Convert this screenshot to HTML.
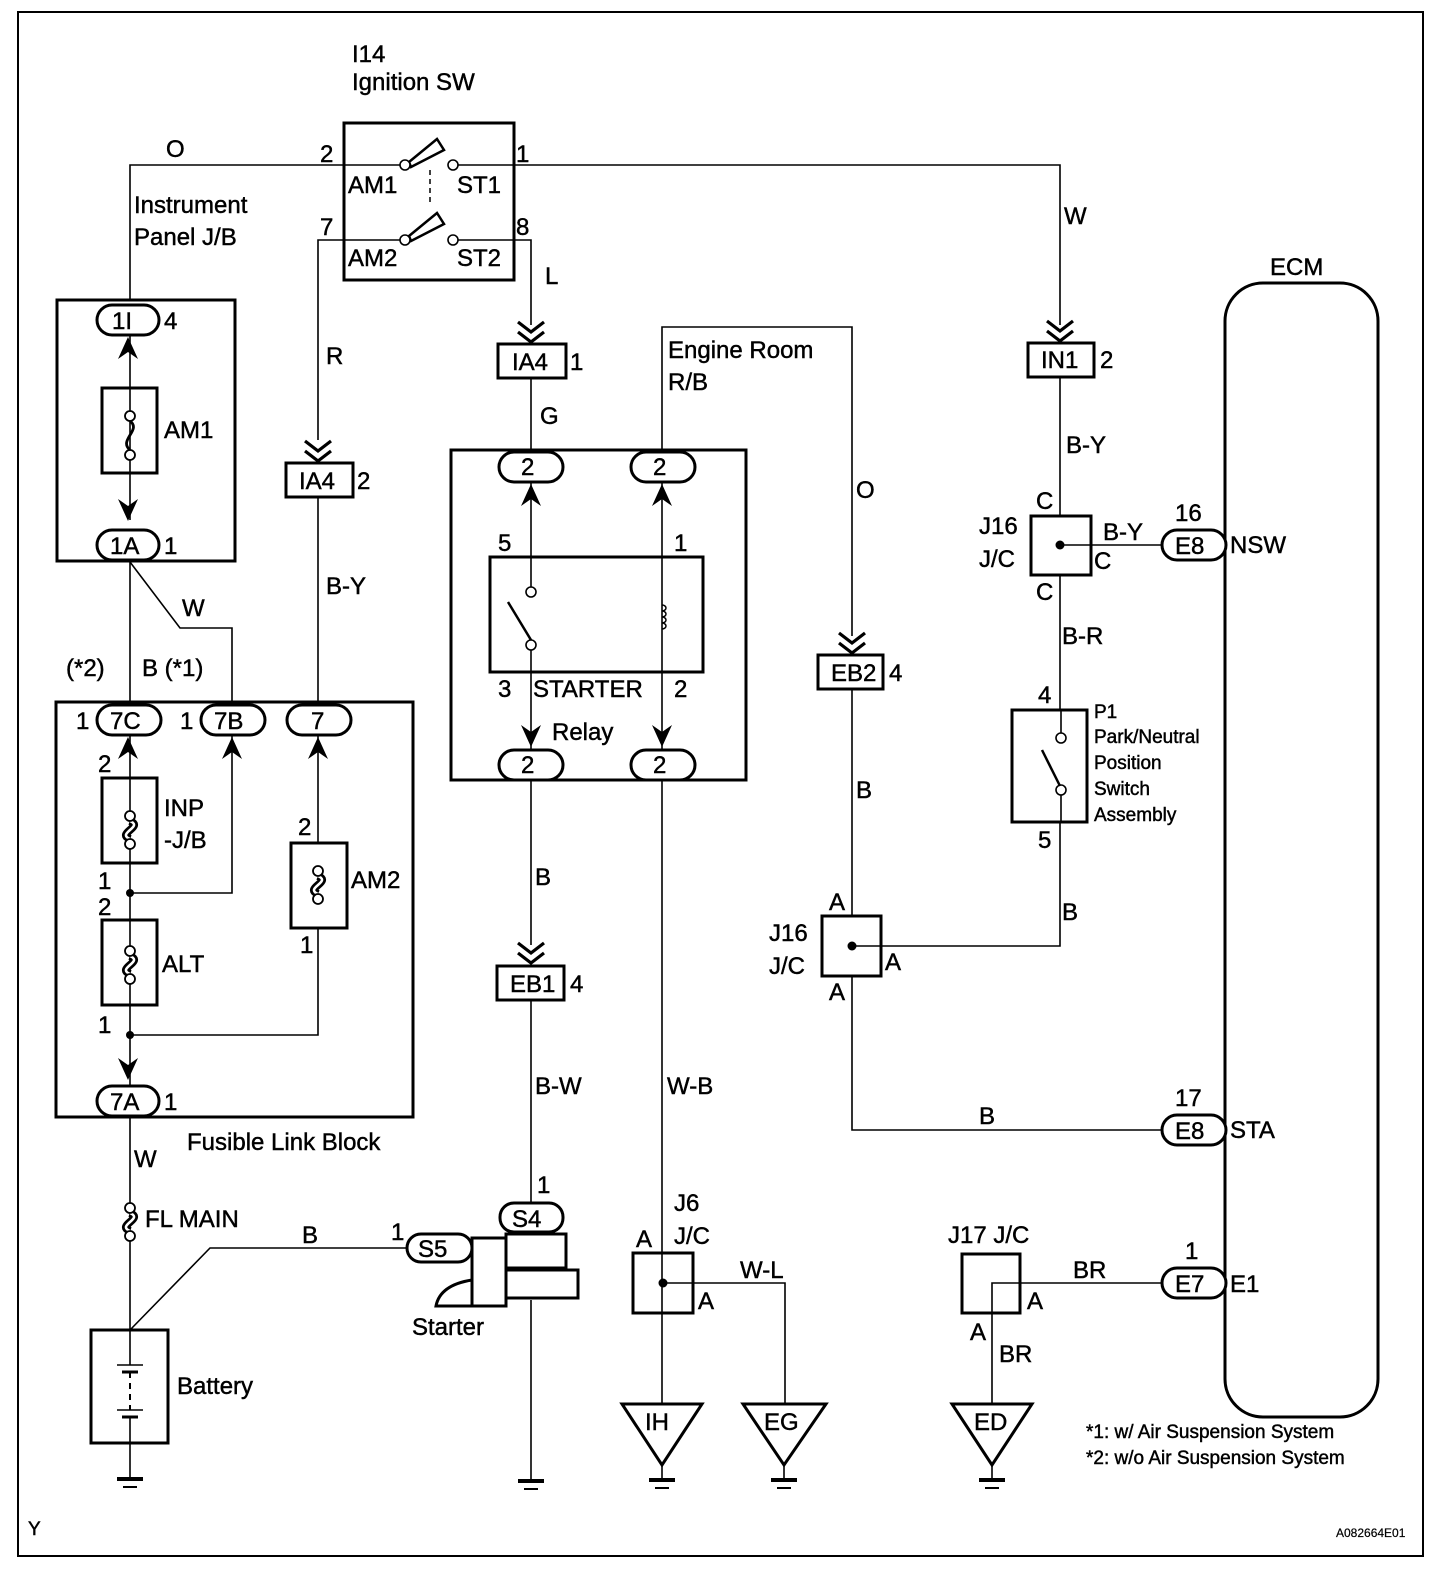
<!DOCTYPE html>
<html><head><meta charset="utf-8"><style>
html,body{margin:0;padding:0;background:#fff;}
svg{display:block;}
text{font-family:"Liberation Sans",Arial,sans-serif;fill:#000;stroke:#000;stroke-width:0.45;}
</style></head><body>
<svg width="1456" height="1584" viewBox="0 0 1456 1584" xmlns="http://www.w3.org/2000/svg">
<defs>
<polygon id="cu" points="-10,12 0,-10 10,12 0,5" fill="#000" stroke="none"/>
<polygon id="cd" points="-10,-12 0,10 10,-12 0,-5" fill="#000" stroke="none"/>
<g id="dc" fill="none" stroke="#000" stroke-width="3.2"><polyline points="-13,-14 0,-4 13,-14"/><polyline points="-13,-4 0,6 13,-4"/></g>
<g id="gnd" stroke="#000"><line x1="-13" y1="0" x2="13" y2="0" stroke-width="4"/><line x1="-7" y1="8" x2="7" y2="8" stroke-width="2"/></g>
</defs>
<g fill="none" stroke="#000" stroke-width="1.6">
<rect x="18" y="12" width="1405" height="1544" stroke-width="2"/>
<polyline points="130,300 130,165 405,165"/>
<polyline points="457,165 1060,165 1060,325"/>
<polyline points="405,240 318,240 318,440"/>
<polyline points="457,240 531,240 531,325"/>
<line x1="531" y1="378" x2="531" y2="450"/>
<polyline points="662,450 662,327 852,327 852,636"/>
<line x1="852" y1="689" x2="852" y2="916"/>
<polyline points="852,946 1060,946 1060,822"/>
<polyline points="852,976 852,1130 1162,1130"/>
<line x1="1060" y1="377" x2="1060" y2="516"/>
<line x1="1060" y1="545" x2="1162" y2="545"/>
<line x1="1060" y1="575" x2="1060" y2="710"/>
<line x1="318" y1="497" x2="318" y2="705"/>
<line x1="130" y1="561" x2="130" y2="705"/>
<polyline points="130,562 180,628 232,628 232,705"/>
<line x1="531" y1="780" x2="531" y2="945"/>
<line x1="531" y1="1000" x2="531" y2="1203"/>
<line x1="531" y1="1300" x2="531" y2="1480"/>
<line x1="662" y1="780" x2="662" y2="1404"/>
<polyline points="663,1283 785,1283 785,1404"/>
<polyline points="1162,1283 992,1283 992,1404"/>
<line x1="130" y1="1117" x2="130" y2="1330"/>
<polyline points="407,1248 210,1248 130,1330"/>
<line x1="130" y1="1443" x2="130" y2="1478"/>
<line x1="130" y1="335" x2="130" y2="520"/>
<line x1="130" y1="735" x2="130" y2="1085"/>
<polyline points="130,893 232,893 232,735"/>
<polyline points="130,1035 318,1035 318,928"/>
<line x1="318" y1="735" x2="318" y2="843"/>
<line x1="531" y1="482" x2="531" y2="587"/>
<line x1="531" y1="650" x2="531" y2="750"/>
<line x1="662" y1="482" x2="662" y2="750"/>
<line x1="1061" y1="710" x2="1061" y2="733"/>
<line x1="1061" y1="795" x2="1061" y2="822"/>
</g>
<g fill="none" stroke="#000" stroke-width="3">
<rect x="344" y="123" width="170" height="157"/>
<rect x="57" y="300" width="178" height="261"/>
<rect x="56" y="702" width="357" height="415"/>
<rect x="451" y="450" width="295" height="330"/>
<rect x="490" y="557" width="213" height="115"/>
<rect x="102" y="388" width="55" height="85"/>
<rect x="102" y="778" width="55" height="85"/>
<rect x="102" y="920" width="55" height="85"/>
<rect x="291" y="843" width="56" height="85"/>
<rect x="1012" y="710" width="75" height="112"/>
<rect x="1031" y="516" width="60" height="59"/>
<rect x="822" y="916" width="59" height="60"/>
<rect x="633" y="1253" width="60" height="60"/>
<rect x="962" y="1254" width="58" height="59"/>
<rect x="91" y="1330" width="77" height="113"/>
<rect x="1225" y="283" width="153" height="1134" rx="38"/>
<rect x="498" y="344" width="68" height="34" fill="#fff"/>
<rect x="286" y="463" width="67" height="34" fill="#fff"/>
<rect x="1028" y="343" width="66" height="34" fill="#fff"/>
<rect x="818" y="655" width="65" height="34" fill="#fff"/>
<rect x="497" y="966" width="67" height="34" fill="#fff"/>
<g fill="#fff">
<rect x="97" y="305" width="62" height="30" rx="15"/>
<rect x="97" y="530" width="62" height="30" rx="15"/>
<rect x="97" y="705" width="64" height="30" rx="15"/>
<rect x="201" y="705" width="64" height="30" rx="15"/>
<rect x="287" y="705" width="64" height="30" rx="15"/>
<rect x="97" y="1086" width="62" height="30" rx="15"/>
<rect x="499" y="452" width="64" height="30" rx="15"/>
<rect x="631" y="452" width="64" height="30" rx="15"/>
<rect x="499" y="750" width="64" height="30" rx="15"/>
<rect x="631" y="750" width="64" height="30" rx="15"/>
<rect x="1162" y="530" width="64" height="30" rx="15"/>
<rect x="1162" y="1115" width="64" height="30" rx="15"/>
<rect x="1162" y="1268" width="64" height="30" rx="15"/>
<rect x="500" y="1203" width="63" height="29" rx="14"/>
<rect x="407" y="1234" width="65" height="28" rx="14"/>
</g>
<path d="M472,1280 Q440,1285 436,1306 L472,1306 Z" fill="#fff"/>
<rect x="506" y="1234" width="60" height="34" fill="#fff"/>
<rect x="506" y="1270" width="72" height="28" fill="#fff"/>
<rect x="472" y="1238" width="34" height="68" fill="#fff"/>
<polygon points="622,1404 702,1404 662,1465"/>
<polygon points="743,1404 826,1404 784,1465"/>
<polygon points="952,1404 1032,1404 992,1465"/>
</g>
<g stroke="#000" stroke-width="1.6">
<line x1="662" y1="1465" x2="662" y2="1478"/>
<line x1="784" y1="1465" x2="784" y2="1478"/>
<line x1="992" y1="1465" x2="992" y2="1478"/>
</g>
<use href="#gnd" x="130" y="1479"/><use href="#gnd" x="531" y="1481"/><use href="#gnd" x="662" y="1480"/><use href="#gnd" x="784" y="1480"/><use href="#gnd" x="992" y="1480"/>
<g stroke="#000" fill="#fff">
<polygon points="409,162 437,139 444,150 411,167" stroke-width="2.5"/>
<polygon points="409,236 437,213 444,224 411,241" stroke-width="2.5"/>
<circle cx="405" cy="165" r="5" stroke-width="1.6"/>
<circle cx="453" cy="165" r="5" stroke-width="1.6"/>
<circle cx="405" cy="240" r="5" stroke-width="1.6"/>
<circle cx="453" cy="240" r="5" stroke-width="1.6"/>
<line x1="430" y1="170" x2="430" y2="203" stroke-width="1.5" stroke-dasharray="5,4"/>
<circle cx="531" cy="592" r="5" stroke-width="1.6"/>
<circle cx="531" cy="645" r="5" stroke-width="1.6"/>
<line x1="508" y1="602" x2="531" y2="640" stroke-width="2.5"/>
<path d="M662,605 a4,3 0 1 1 0,6 a4,3 0 1 1 0,6 a4,3 0 1 1 0,6 a4,3 0 1 1 0,6" fill="none" stroke-width="1.5"/>
<circle cx="1061" cy="738" r="5" stroke-width="1.6"/>
<circle cx="1061" cy="790" r="5" stroke-width="1.6"/>
<line x1="1042" y1="750" x2="1060" y2="786" stroke-width="2.5"/>
</g>
<g fill="#000"><circle cx="130" cy="893" r="4"/><circle cx="130" cy="1035" r="4"/><circle cx="1060" cy="545" r="4.5"/><circle cx="852" cy="946" r="4.5"/><circle cx="663" cy="1283" r="4.5"/></g>
<g stroke="#000"><line x1="130" y1="1330" x2="130" y2="1365" stroke-width="1.6"/><line x1="117" y1="1365" x2="143" y2="1365" stroke-width="1.6"/><line x1="122" y1="1372" x2="138" y2="1372" stroke-width="3"/><line x1="130" y1="1372" x2="130" y2="1410" stroke-width="2" stroke-dasharray="6,5"/><line x1="117" y1="1410" x2="143" y2="1410" stroke-width="1.6"/><line x1="122" y1="1417" x2="138" y2="1417" stroke-width="3"/><line x1="130" y1="1417" x2="130" y2="1443" stroke-width="1.6"/></g>
<!-- AM1 fuse -->
<g fill="none" stroke="#000"><path d="M130,421 C142,430 118,440 130,450" stroke-width="2.8"/><circle cx="130" cy="416" r="5" fill="#fff" stroke-width="1.8"/><circle cx="130" cy="455" r="5" fill="#fff" stroke-width="1.8"/></g>
<!-- fusible link fuses -->
<g fill="none" stroke="#000">
<g transform="translate(130,830)"><path d="M0,-9 C14,-3 -14,3 0,9" stroke-width="8"/><path d="M0,-9 C14,-3 -14,3 0,9" stroke="#fff" stroke-width="2.5"/><circle cx="0" cy="-14" r="5" fill="#fff" stroke-width="1.8"/><circle cx="0" cy="14" r="5" fill="#fff" stroke-width="1.8"/></g>
<g transform="translate(130,965)"><path d="M0,-9 C14,-3 -14,3 0,9" stroke-width="8"/><path d="M0,-9 C14,-3 -14,3 0,9" stroke="#fff" stroke-width="2.5"/><circle cx="0" cy="-14" r="5" fill="#fff" stroke-width="1.8"/><circle cx="0" cy="14" r="5" fill="#fff" stroke-width="1.8"/></g>
<g transform="translate(318,885)"><path d="M0,-9 C14,-3 -14,3 0,9" stroke-width="8"/><path d="M0,-9 C14,-3 -14,3 0,9" stroke="#fff" stroke-width="2.5"/><circle cx="0" cy="-14" r="5" fill="#fff" stroke-width="1.8"/><circle cx="0" cy="14" r="5" fill="#fff" stroke-width="1.8"/></g>
<g transform="translate(130,1222)"><path d="M0,-9 C14,-3 -14,3 0,9" stroke-width="8"/><path d="M0,-9 C14,-3 -14,3 0,9" stroke="#fff" stroke-width="2.5"/><circle cx="0" cy="-14" r="5" fill="#fff" stroke-width="1.8"/><circle cx="0" cy="14" r="5" fill="#fff" stroke-width="1.8"/></g>
</g>
<use href="#cu" x="128" y="347"/><use href="#cd" x="128" y="511"/>
<use href="#cu" x="128" y="747"/><use href="#cu" x="232" y="747"/><use href="#cu" x="318" y="747"/><use href="#cd" x="128" y="1070"/>
<use href="#cu" x="531" y="494"/><use href="#cu" x="662" y="494"/><use href="#cd" x="531" y="737"/><use href="#cd" x="662" y="737"/>
<use href="#dc" x="531" y="336"/><use href="#dc" x="318" y="455"/><use href="#dc" x="1060" y="335"/><use href="#dc" x="852" y="647"/><use href="#dc" x="531" y="957"/>
<g font-size="24">
<text x="352" y="62">I14</text><text x="352" y="90">Ignition SW</text>
<text x="166" y="157">O</text><text x="320" y="162">2</text><text x="516" y="162">1</text>
<text x="348" y="193">AM1</text><text x="457" y="193">ST1</text>
<text x="348" y="266">AM2</text><text x="457" y="266">ST2</text>
<text x="320" y="235">7</text><text x="516" y="235">8</text>
<text x="545" y="284">L</text><text x="1064" y="224">W</text>
<text x="134" y="213">Instrument</text><text x="134" y="245">Panel J/B</text>
<text x="112" y="329">1I</text><text x="164" y="329">4</text>
<text x="164" y="438">AM1</text>
<text x="110" y="554">1A</text><text x="164" y="554">1</text>
<text x="326" y="364">R</text>
<text x="512" y="370">IA4</text><text x="570" y="370">1</text>
<text x="299" y="489">IA4</text><text x="357" y="489">2</text>
<text x="1041" y="368">IN1</text><text x="1100" y="368">2</text>
<text x="831" y="681">EB2</text><text x="889" y="681">4</text>
<text x="510" y="992">EB1</text><text x="570" y="992">4</text>
<text x="540" y="424">G</text>
<text x="668" y="358">Engine Room</text><text x="668" y="390">R/B</text>
<text x="856" y="498">O</text>
<text x="521" y="475">2</text><text x="653" y="475">2</text>
<text x="521" y="773">2</text><text x="653" y="773">2</text>
<text x="498" y="551">5</text><text x="674" y="551">1</text>
<text x="498" y="697">3</text><text x="533" y="697">STARTER</text><text x="674" y="697">2</text>
<text x="552" y="740">Relay</text>
<text x="326" y="594">B-Y</text>
<text x="182" y="616">W</text>
<text x="66" y="676">(*2)</text><text x="142" y="676">B (*1)</text>
<text x="76" y="729">1</text><text x="110" y="729">7C</text>
<text x="180" y="729">1</text><text x="214" y="729">7B</text>
<text x="311" y="729">7</text>
<text x="98" y="772">2</text><text x="164" y="816">INP</text><text x="164" y="848">-J/B</text>
<text x="98" y="889">1</text><text x="98" y="915">2</text>
<text x="162" y="972">ALT</text><text x="98" y="1033">1</text>
<text x="298" y="835">2</text><text x="351" y="888">AM2</text><text x="300" y="953">1</text>
<text x="110" y="1110">7A</text><text x="164" y="1110">1</text>
<text x="187" y="1150">Fusible Link Block</text>
<text x="134" y="1167">W</text><text x="145" y="1227">FL MAIN</text>
<text x="177" y="1394">Battery</text>
<text x="302" y="1243">B</text><text x="391" y="1240">1</text>
<text x="418" y="1257">S5</text><text x="512" y="1227">S4</text><text x="537" y="1193">1</text>
<text x="412" y="1335">Starter</text>
<text x="535" y="885">B</text><text x="535" y="1094">B-W</text>
<text x="667" y="1094">W-B</text>
<text x="674" y="1211">J6</text><text x="674" y="1244">J/C</text>
<text x="636" y="1247">A</text><text x="698" y="1309">A</text>
<text x="740" y="1278">W-L</text>
<text x="1066" y="453">B-Y</text>
<text x="1036" y="509">C</text><text x="979" y="534">J16</text><text x="979" y="567">J/C</text>
<text x="1103" y="540">B-Y</text><text x="1094" y="569">C</text><text x="1036" y="600">C</text>
<text x="1175" y="521">16</text><text x="1175" y="554">E8</text><text x="1230" y="553">NSW</text>
<text x="1062" y="644">B-R</text>
<text x="1038" y="703">4</text><text x="1038" y="848">5</text>
<text x="856" y="798">B</text>
<text x="1062" y="920">B</text>
<text x="829" y="910">A</text><text x="769" y="941">J16</text><text x="769" y="974">J/C</text>
<text x="885" y="970">A</text><text x="829" y="1000">A</text>
<text x="979" y="1124">B</text>
<text x="1175" y="1106">17</text><text x="1175" y="1139">E8</text><text x="1230" y="1138">STA</text>
<text x="1270" y="275">ECM</text>
<text x="948" y="1243">J17 J/C</text>
<text x="1073" y="1278">BR</text><text x="1027" y="1309">A</text><text x="970" y="1340">A</text><text x="999" y="1362">BR</text>
<text x="1185" y="1259">1</text><text x="1175" y="1292">E7</text><text x="1230" y="1292">E1</text>
<text x="645" y="1430">IH</text><text x="764" y="1430">EG</text><text x="974" y="1430">ED</text>
</g>
<g font-size="19">
<text x="1094" y="718">P1</text><text x="1094" y="743">Park/Neutral</text><text x="1094" y="769">Position</text><text x="1094" y="795">Switch</text><text x="1094" y="821">Assembly</text>
<text x="1086" y="1438">*1: w/ Air Suspension System</text>
<text x="1086" y="1464">*2: w/o Air Suspension System</text>
<text x="28" y="1535">Y</text>
</g>
<text x="1336" y="1537" font-size="12" style="stroke-width:0.2">A082664E01</text>
</svg>
</body></html>
